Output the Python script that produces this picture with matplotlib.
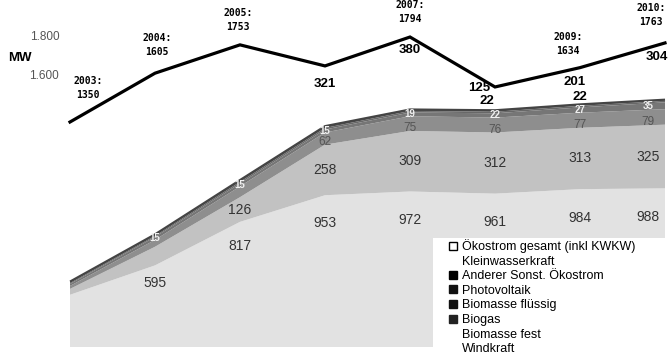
import matplotlib
matplotlib.use('Agg')
import matplotlib.pyplot as plt
import numpy as np
from matplotlib.lines import Line2D
from matplotlib.patches import Rectangle

plt.rcParams['font.family'] = ['Liberation Sans', 'DejaVu Sans']

years = [2003, 2004, 2005, 2006, 2007, 2008, 2009, 2010]

# Ökostrom gesamt (inkl KWKW), MW
total = [1350, 1605, 1753, 1643, 1794, 1533, 1634, 1763]
total_shown = [True, True, True, False, True, False, True, True]
side_upper = [None, None, None, '321', '380', '125', '201', '304']
side_lower = [None, None, None, None, None, '22', '22', None]

# installed capacity per source, MW (stacked bottom -> top)
windkraft = [445, 595, 817, 953, 972, 961, 984, 988]
biomasse_fest = [30, 95, 126, 258, 309, 312, 313, 325]
biogas = [15, 35, 55, 62, 75, 76, 77, 79]
biomasse_fluessig = [10, 15, 15, 15, 19, 22, 27, 35]
photovoltaik = [5, 6, 8, 8, 8, 8, 8, 8]
anderer = [8, 8, 10, 10, 8, 8, 8, 6]

# first year that carries a value label, per layer
wind_lab_from = 1
fest_lab_from = 2
biogas_lab_from = 3
fluessig_lab_from = 1

legend_labels = ['Ökostrom gesamt (inkl KWKW)', 'Kleinwasserkraft',
                 'Anderer Sonst. Ökostrom', 'Photovoltaik', 'Biomasse flüssig',
                 'Biogas', 'Biomasse fest', 'Windkraft']

W, H = 671, 360
fig = plt.figure(figsize=(W / 100, H / 100), dpi=100)
fig.patch.set_facecolor('white')

xlim = (2003 - 8 / 85, 2003 + 601 / 85)

# stacked areas
ax_a = fig.add_axes([62 / W, 13 / H, 609 / W, 347 / H])
ax_a.set_xlim(*xlim)
ax_a.set_ylim(178.6, 1949)
ax_a.axis('off')
layers = [windkraft, biomasse_fest, biogas, biomasse_fluessig, photovoltaik, anderer]
colors = ['#e2e2e2', '#c2c2c2', '#8e8e8e', '#767676', '#686868', '#4c4c4c']
ax_a.stackplot(years, *layers, colors=colors, linewidth=0)
cum = np.cumsum(np.array(layers), axis=0)
ax_a.plot(years, cum[-1], color='#444444', lw=1.4, solid_capstyle='butt')

lab_x = [yr - 0.2 if yr == 2010 else yr for yr in years]
for i in range(len(years)):
    if i >= wind_lab_from:
        ax_a.text(lab_x[i], windkraft[i] * 0.85, str(windkraft[i]), ha='center',
                  va='center', fontsize=10, color='#333333')
    if i >= fest_lab_from:
        ax_a.text(lab_x[i], cum[0][i] + biomasse_fest[i] / 2, str(biomasse_fest[i]),
                  ha='center', va='center', fontsize=10, color='#333333')
    if i >= biogas_lab_from:
        ax_a.text(lab_x[i], cum[1][i] + biogas[i] * 0.2, str(biogas[i]), ha='center',
                  va='center', fontsize=8.5, color='#555555')
    if i >= fluessig_lab_from:
        ax_a.text(lab_x[i], cum[2][i] + biomasse_fluessig[i] / 2,
                  str(biomasse_fluessig[i]), ha='center', va='center', fontsize=7,
                  color='#f0f0f0', fontweight='bold')

# white field behind the legend
fig.add_artist(Rectangle((433 / W, 0), 232 / W, 122 / H, transform=fig.transFigure,
                         facecolor='white', edgecolor='none', zorder=0.5))

# total line
ax_l = fig.add_axes([62 / W, 0, 609 / W, 1], zorder=1)
ax_l.patch.set_visible(False)
ax_l.set_xlim(*xlim)
ax_l.set_ylim(106.5, 1987.4)
for s in ax_l.spines.values():
    s.set_visible(False)
ax_l.set_xticks([])
ax_l.set_yticks([1600, 1800], ['1.600', '1.800'])
ax_l.tick_params(axis='y', length=0, pad=2, labelsize=8.5, labelcolor='#555555')
ax_l.plot(years, total, color='black', lw=2.3, solid_joinstyle='miter')

year_dx = [18, 2, -2, 0, 0, 0, -12, -14]
year_dy = [34, 28, 25, 0, 25, 0, 24, 28]
for i, yr in enumerate(years):
    if total_shown[i]:
        ax_l.annotate(f'{yr}:\n{total[i]}', xy=(yr, total[i]),
                      xytext=(year_dx[i], year_dy[i]), textcoords='offset pixels',
                      ha='center', va='center', fontsize=7, fontweight='bold',
                      family='DejaVu Sans Mono', linespacing=1.5)

upper_off = [None, None, None, (0, -18), (0, -13), (-16, -1), (-5, -14), (-8, -14)]
lower_off = [None, None, None, None, None, (-8, -14), (0, -29), None]
for i, yr in enumerate(years):
    if side_upper[i]:
        ax_l.annotate(side_upper[i], xy=(yr, total[i]), xytext=upper_off[i],
                      textcoords='offset pixels', ha='center', va='center',
                      fontsize=9.5, fontweight='bold')
    if side_lower[i]:
        ax_l.annotate(side_lower[i], xy=(yr, total[i]), xytext=lower_off[i],
                      textcoords='offset pixels', ha='center', va='center',
                      fontsize=9.5, fontweight='bold')

fig.text(8 / W, 1 - 58 / H, 'MW', fontsize=9.5, fontweight='bold', va='center')

# legend
sq = dict(marker='s', ls='none', markersize=6, markeredgewidth=1)
handles = [Line2D([], [], mfc='white', mec='black', **sq),
           Line2D([], [], ls='none'),
           Line2D([], [], mfc='black', mec='black', **sq),
           Line2D([], [], mfc='#111111', mec='#111111', **sq),
           Line2D([], [], mfc='#111111', mec='#111111', **sq),
           Line2D([], [], mfc='#222222', mec='#222222', **sq),
           Line2D([], [], ls='none'),
           Line2D([], [], ls='none')]
ax_l.legend(handles, legend_labels, loc='upper left',
            bbox_to_anchor=(449 / W, 1 - 239 / H), bbox_transform=fig.transFigure,
            frameon=False, fontsize=9, handlelength=0.7, handletextpad=0.35,
            labelspacing=0.21, borderpad=0, borderaxespad=0)

fig.savefig('out.png', dpi=100, facecolor='white')
